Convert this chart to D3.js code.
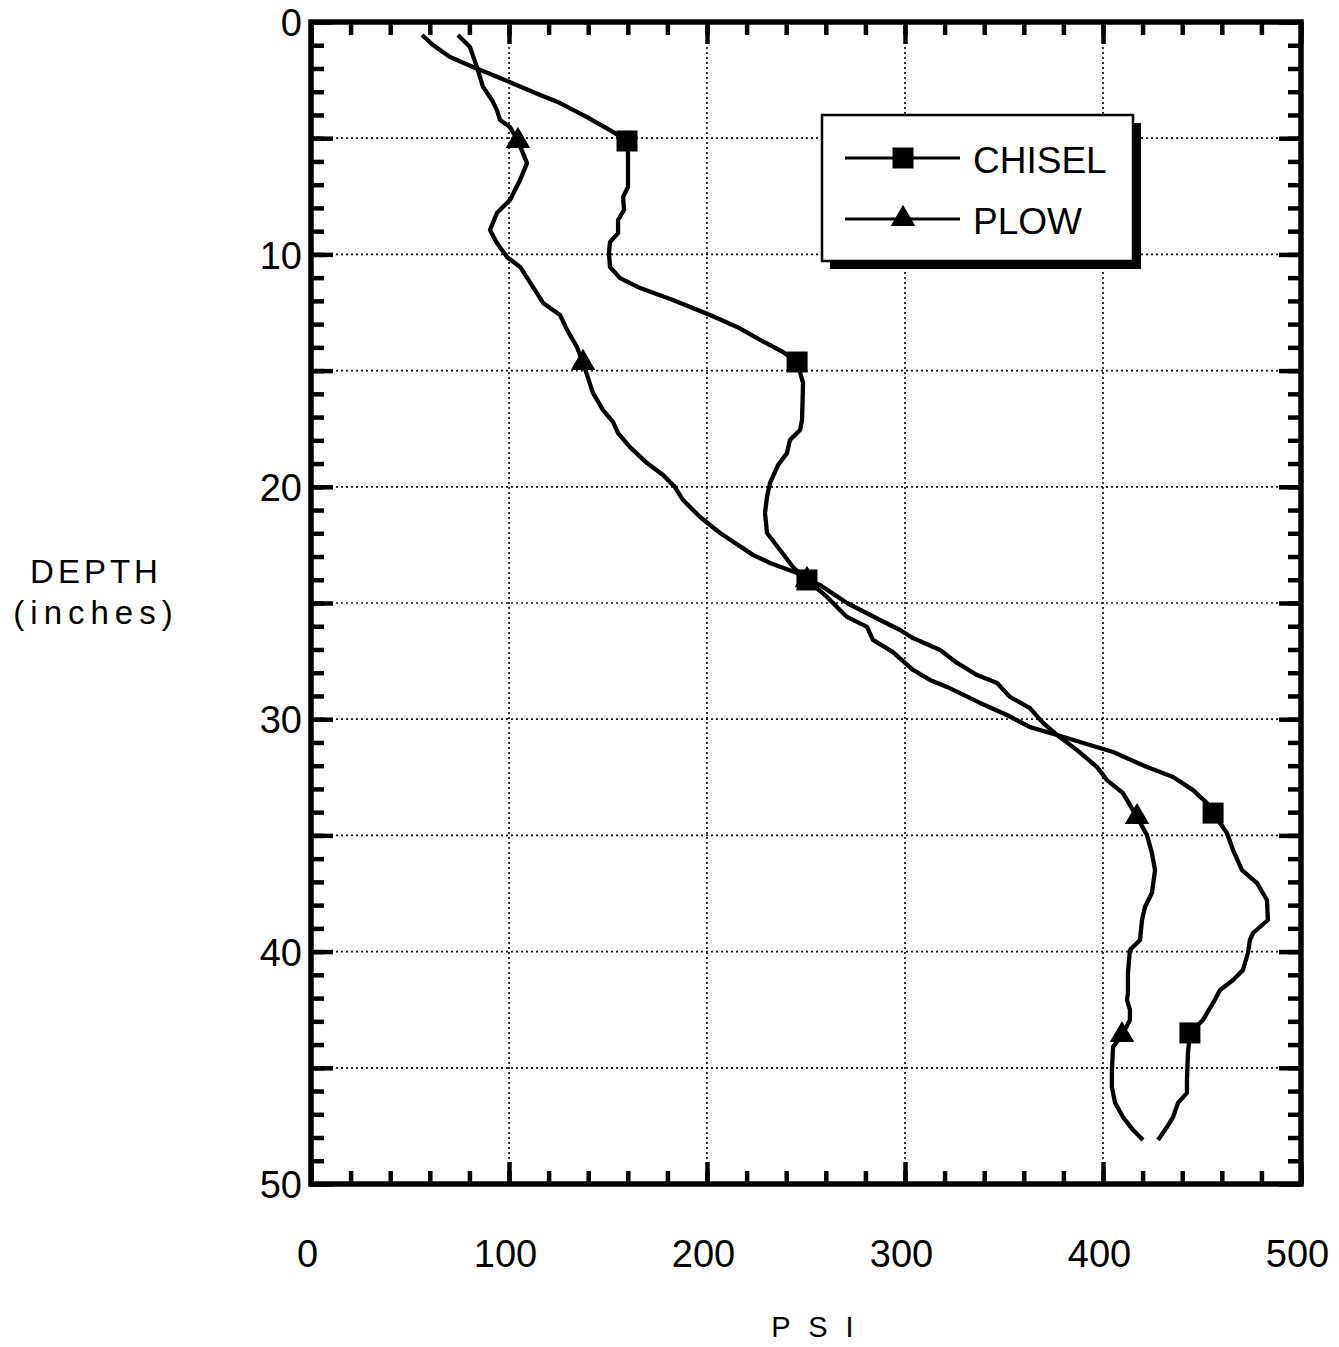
<!DOCTYPE html>
<html>
<head>
<meta charset="utf-8">
<script src="https://cdn.jsdelivr.net/npm/d3@7"></script>
<style>
  html, body { margin: 0; padding: 0; background: #fff; }
  svg { display: block; }
  text { font-family: "Liberation Sans", Arial, sans-serif; fill: #000; }
</style>
</head>
<body>
<script>
// ---------- DATA ----------
const seriesNames = ["CHISEL", "PLOW"];

// CHISEL: [psi, depth in inches]
const chisel = [
  [56.1,0.56],[61.6,0.99],[70.2,1.51],[81.8,1.94],[95.5,2.41],[112.1,3.01],[125.8,3.49],
  [139.4,4.09],[152.5,4.73],[159.6,5.12],[160.1,5.64],[160.1,7.10],[157.6,7.53],[158.1,8.09],
  [155.1,8.52],[155.1,9.08],[151.0,9.47],[150.5,9.94],[151.0,10.54],[156.1,11.02],[166.2,11.45],
  [182.8,11.96],[201.5,12.61],[215.2,13.12],[226.8,13.68],[238.4,14.20],[245.5,14.63],[248.5,15.53],
  [248.0,17.13],[247.0,17.56],[241.9,17.99],[240.4,18.55],[235.9,19.06],[231.8,19.84],[230.3,20.44],
  [229.3,21.13],[230.3,21.99],[236.9,22.72],[243.4,23.45],[250.5,24.01],[260.6,24.74],[270.7,25.60],
  [280.8,26.03],[283.8,26.59],[293.9,27.11],[304.0,27.88],[312.6,28.31],[321.2,28.61],[337.9,29.30],
  [351.5,29.82],[363.1,30.34],[376.8,30.68],[388.4,30.98],[405.1,31.41],[422.2,32.06],[435.4,32.49],
  [445.5,33.05],[452.5,33.61],[455.6,34.04],[462.6,34.90],[465.7,35.63],[470.2,36.49],[477.8,37.05],
  [482.8,37.78],[483.3,38.64],[475.8,39.20],[474.2,39.50],[473.2,40.06],[470.7,40.79],[465.7,41.22],
  [459.1,41.65],[455.6,42.21],[450.5,42.94],[443.9,43.50],[442.9,44.36],[442.4,45.52],[442.4,46.08],
  [437.9,46.51],[435.4,47.12],[432.3,47.55],[427.8,48.11]
];

// PLOW: [psi, depth in inches]
const plow = [
  [74.2,0.56],[80.3,1.08],[83.8,1.94],[86.9,2.80],[91.4,3.36],[93.9,3.79],[95.5,4.22],[100.5,4.52],
  [104.5,5.12],[109.1,6.07],[105.6,6.80],[100.5,7.66],[93.9,8.22],[90.4,8.95],[93.9,9.51],[99.0,10.11],
  [105.6,10.54],[112.1,11.40],[117.2,12.09],[125.8,12.61],[129.3,13.25],[134.3,13.98],[137.4,14.67],
  [142.4,15.96],[147.5,16.70],[152.5,17.21],[155.1,17.69],[161.1,18.29],[169.7,18.98],[177.8,19.49],
  [183.8,20.01],[187.9,20.57],[196.5,21.30],[206.6,21.99],[223.2,22.93],[231.8,23.28],[245.5,23.71],
  [250.5,24.01],[257.1,24.23],[270.7,25.00],[287.4,25.73],[297.5,26.16],[304.0,26.51],[317.7,27.02],
  [326.3,27.58],[336.4,28.10],[346.5,28.44],[353.0,29.04],[363.1,29.52],[369.7,30.16],[376.8,30.68],
  [386.9,31.33],[397.0,32.06],[402.0,32.62],[410.1,33.18],[417.2,34.21],[422.2,34.98],[424.7,35.76],
  [426.3,36.49],[424.7,37.48],[421.2,38.08],[419.7,38.64],[418.7,39.50],[413.6,39.93],[412.6,40.92],
  [412.6,41.78],[412.1,42.08],[413.6,42.51],[413.6,42.94],[409.6,43.59],[405.1,44.10],[404.5,45.09],
  [404.5,45.83],[406.1,46.51],[410.1,47.12],[415.2,47.68],[420.2,48.11]
];

// marker positions [psi, depth]
const chiselMarkers = [[159.6,5.12],[245.5,14.63],[250.5,24.01],[455.6,34.04],[443.9,43.50]];
const plowMarkers   = [[104.5,5.12],[137.4,14.67],[250.5,24.01],[417.2,34.21],[409.6,43.59]];

const xTickLabels = [0, 100, 200, 300, 400, 500];
const yTickLabels = [0, 10, 20, 30, 40, 50];
const xGrid = [100, 200, 300, 400];
const yGrid = [5, 10, 15, 20, 25, 30, 35, 40, 45];
const xMinorTicks = d3.range(0, 501, 20);
const xMajorTicks = [0, 100, 200, 300, 400, 500];
const yMinorTicks = d3.range(0, 51, 1);
const yMajorTicks = d3.range(0, 51, 5);

const xTitle = "P S I";
const yTitle = ["DEPTH", "(inches)"];

// ---------- LAYOUT ----------
const W = 1339, H = 1347;
const m = { left: 311, top: 22, right: 38, bottom: 163 };
const pw = W - m.left - m.right;   // 990
const ph = H - m.top - m.bottom;   // 1162

const svg = d3.select("body").append("svg").attr("width", W).attr("height", H);
const g = svg.append("g").attr("transform", `translate(${m.left},${m.top})`);

const x = d3.scaleLinear().domain([0, 500]).range([0, pw]);
const y = d3.scaleLinear().domain([0, 50]).range([0, ph]);

// gridlines
g.append("g").selectAll("line").data(xGrid).join("line")
  .attr("x1", d => x(d)).attr("x2", d => x(d)).attr("y1", 0).attr("y2", ph)
  .attr("stroke", "#111").attr("stroke-width", 1.7).attr("stroke-dasharray", "2,3");
g.append("g").selectAll("line").data(yGrid).join("line")
  .attr("y1", d => y(d)).attr("y2", d => y(d)).attr("x1", 0).attr("x2", pw)
  .attr("stroke", "#111").attr("stroke-width", 1.7).attr("stroke-dasharray", "2,3");

// ticks (inward on all four sides)
function tickAxis(axisFn, scale, values, size, transform) {
  const a = g.append("g").attr("transform", transform)
    .call(axisFn(scale).tickValues(values).tickSize(size).tickFormat(""));
  a.select(".domain").remove();
  a.selectAll(".tick line").attr("stroke", "#000").attr("stroke-width", 4.5);
}
const minorLen = 13, majorLen = 22;
tickAxis(d3.axisBottom, x, xMinorTicks, -minorLen, `translate(0,${ph})`);
tickAxis(d3.axisBottom, x, xMajorTicks, -majorLen, `translate(0,${ph})`);
tickAxis(d3.axisTop, x, xMinorTicks, -minorLen, `translate(0,0)`);
tickAxis(d3.axisTop, x, xMajorTicks, -majorLen, `translate(0,0)`);
tickAxis(d3.axisLeft, y, yMinorTicks, -minorLen, `translate(0,0)`);
tickAxis(d3.axisLeft, y, yMajorTicks, -majorLen, `translate(0,0)`);
tickAxis(d3.axisRight, y, yMinorTicks, -minorLen, `translate(${pw},0)`);
tickAxis(d3.axisRight, y, yMajorTicks, -majorLen, `translate(${pw},0)`);

// frame
g.append("rect").attr("x", 0).attr("y", 0).attr("width", pw).attr("height", ph)
  .attr("fill", "none").attr("stroke", "#000").attr("stroke-width", 5.5);

// tick labels
const xl = g.append("g").attr("transform", `translate(-4,${ph})`)
  .call(d3.axisBottom(x).tickValues(xTickLabels).tickSize(0).tickPadding(0).tickFormat(d3.format("d")));
xl.select(".domain").remove();
xl.selectAll("text").attr("font-size", 38).attr("font-family", "Liberation Sans, Arial, sans-serif")
  .attr("dy", null).attr("y", 83);

const yl = g.append("g").attr("transform", `translate(-9,0)`)
  .call(d3.axisLeft(y).tickValues(yTickLabels).tickSize(0).tickPadding(0).tickFormat(d3.format("d")));
yl.select(".domain").remove();
yl.selectAll("text").attr("font-size", 38).attr("font-family", "Liberation Sans, Arial, sans-serif")
  .attr("dy", "0.36em");

// axis titles
svg.append("text").attr("x", 815).attr("y", 1337).attr("text-anchor", "middle")
  .attr("font-size", 29).attr("letter-spacing", 5).text(xTitle);
svg.append("text").attr("x", 96).attr("y", 583).attr("text-anchor", "middle")
  .attr("font-size", 33).attr("letter-spacing", 4).text(yTitle[0]);
svg.append("text").attr("x", 96).attr("y", 624).attr("text-anchor", "middle")
  .attr("font-size", 33).attr("letter-spacing", 6).text(yTitle[1]);

// lines
const line = d3.line().x(d => x(d[0])).y(d => y(d[1]));
const plot = g.append("g");
[plow, chisel].forEach(s => {
  plot.append("path").datum(s).attr("d", line)
    .attr("fill", "none").attr("stroke", "#000").attr("stroke-width", 4.3)
    .attr("stroke-linejoin", "round").attr("stroke-linecap", "butt");
});

// markers
const tri = d3.symbol().type(d3.symbolTriangle).size(260);
const sq = d3.symbol().type(d3.symbolSquare).size(441);
plot.append("g").selectAll("path").data(plowMarkers).join("path")
  .attr("transform", d => `translate(${x(d[0])},${y(d[1])})`).attr("d", tri).attr("fill", "#000");
plot.append("g").selectAll("path").data(chiselMarkers).join("path")
  .attr("transform", d => `translate(${x(d[0])},${y(d[1])})`).attr("d", sq).attr("fill", "#000");

// legend
const lg = svg.append("g").attr("transform", "translate(822,115)");
const lw = 311, lh = 146;
lg.append("rect").attr("x", 8).attr("y", 8).attr("width", lw).attr("height", lh).attr("fill", "#000");
lg.append("rect").attr("x", 0).attr("y", 0).attr("width", lw).attr("height", lh)
  .attr("fill", "#fff").attr("stroke", "#000").attr("stroke-width", 2.5);
const legendSymbols = [sq, tri];
seriesNames.forEach((name, i) => {
  const ly = 43 + i * 61;
  lg.append("line").attr("x1", 23).attr("x2", 138).attr("y1", ly).attr("y2", ly)
    .attr("stroke", "#000").attr("stroke-width", 3);
  lg.append("path").attr("transform", `translate(81,${ly})`).attr("d", legendSymbols[i]).attr("fill", "#000");
  lg.append("text").attr("x", 151).attr("y", ly + 15).attr("font-size", 37).text(name);
});
</script>
</body>
</html>
